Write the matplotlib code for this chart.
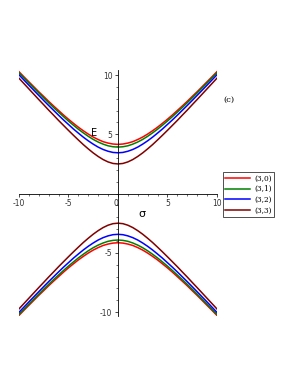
import numpy as np
import matplotlib
matplotlib.use("Agg")
import matplotlib.pyplot as plt
from matplotlib.ticker import MultipleLocator

# sigma values (right half, curves are symmetric in sigma)
sigma_half = [0, 0.5, 1, 1.5, 2, 2.5, 3, 3.5, 4, 4.5, 5, 5.5,
              6, 6.5, 7, 7.5, 8, 8.5, 9, 9.5, 10]

# upper branch energies, E(sigma) for sigma = 0..10
e_30 = [4.15, 4.18, 4.26, 4.38, 4.56, 4.77, 5.02, 5.30, 5.60, 5.93, 6.27, 6.63,
        7.01, 7.39, 7.78, 8.19, 8.59, 9.01, 9.43, 9.85, 10.28]
e_31 = [3.92, 3.95, 4.03, 4.17, 4.35, 4.57, 4.83, 5.12, 5.43, 5.77, 6.12, 6.49,
        6.87, 7.26, 7.66, 8.07, 8.49, 8.91, 9.33, 9.76, 10.19]
e_32 = [3.44, 3.47, 3.57, 3.72, 3.92, 4.17, 4.45, 4.76, 5.10, 5.45, 5.83, 6.21,
        6.61, 7.02, 7.43, 7.85, 8.28, 8.71, 9.14, 9.58, 10.02]
e_33 = [2.50, 2.54, 2.67, 2.87, 3.13, 3.43, 3.77, 4.13, 4.52, 4.92, 5.33, 5.75,
        6.17, 6.61, 7.04, 7.49, 7.93, 8.38, 8.83, 9.28, 9.73]

labels = ["(3,0)", "(3,1)", "(3,2)", "(3,3)"]
colors = ["#ff0000", "#008000", "#0000ff", "#800000"]

fig = plt.figure(figsize=(2.91, 3.76), dpi=100)
ax = fig.add_axes([0.0653, 0.159, 0.680, 0.654])

s_half = np.array(sigma_half, dtype=float)
sigma = np.concatenate([-s_half[:0:-1], s_half])

for e, lab, col in zip([e_30, e_31, e_32, e_33], labels, colors):
    e = np.array(e)
    upper = np.concatenate([e[:0:-1], e])
    ax.plot(sigma, upper, color=col, lw=1.1, label=lab)
    ax.plot(sigma, -upper, color=col, lw=1.1)

ax.set_xlim(-10, 10)
ax.set_ylim(-10.35, 10.4)

# axes through the origin, maple style
ax.spines["left"].set_position(("data", 0))
ax.spines["bottom"].set_position(("data", 0))
ax.spines["top"].set_visible(False)
ax.spines["right"].set_visible(False)
for sp in ["left", "bottom"]:
    ax.spines[sp].set_linewidth(0.6)

ax.set_xticks([-10, -5, 0, 5, 10])
ax.set_xticklabels(["-10", "-5", "0", "5", "10"])
ax.set_yticks([-10, -5, 5, 10])
ax.set_yticklabels(["-10", "-5", "5", "10"])
ax.xaxis.set_minor_locator(MultipleLocator(1))
ax.yaxis.set_minor_locator(MultipleLocator(1))
ax.tick_params(which="major", length=2.5, width=0.5, labelsize=5.5, pad=1.5,
               direction="out", colors="black", labelcolor="#333333")
ax.tick_params(which="minor", length=1.3, width=0.4)
# the "0" sits just left of the vertical axis
for t in ax.get_xticklabels():
    if t.get_text() == "0":
        t.set_horizontalalignment("right")

ax.text(-2.4, 5.1, "E", fontsize=7, ha="center", va="center")
ax.text(2.4, -1.75, "σ", fontsize=8, ha="center", va="center")
fig.text(0.787, 0.735, "(c)", fontsize=6, family="serif", ha="center", va="center")

leg = ax.legend(loc="upper left", bbox_to_anchor=(1.03, 0.586),
                frameon=True, fancybox=False, handlelength=3.4, handletextpad=0.5,
                borderpad=0.35, labelspacing=0.35, borderaxespad=0,
                prop={"family": "serif", "size": 5.3})
leg.get_frame().set_edgecolor("black")
leg.get_frame().set_linewidth(0.6)

fig.savefig("out.png", dpi=100)
